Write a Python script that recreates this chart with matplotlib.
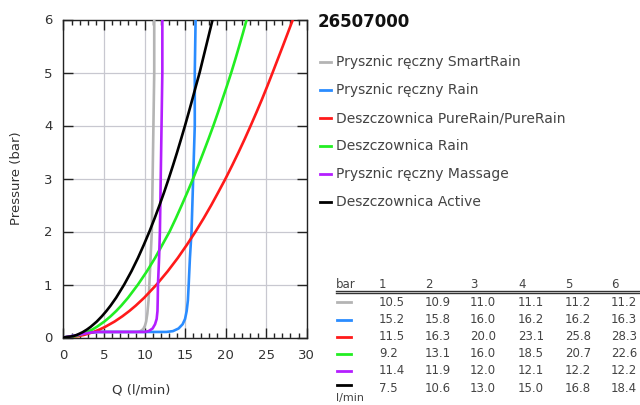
import matplotlib
matplotlib.use("Agg")
import matplotlib.pyplot as plt
from matplotlib.ticker import MultipleLocator

# ---------------- data ----------------
title = "26507000"
series_names = [
    "Prysznic ręczny SmartRain",
    "Prysznic ręczny Rain",
    "Deszczownica PureRain/PureRain",
    "Deszczownica Rain",
    "Prysznic ręczny Massage",
    "Deszczownica Active",
]
colors = ["#b4b4b4", "#2a8cff", "#ff1a1a", "#22ee22", "#b41eff", "#000000"]

# curve points: flow Q (l/min) vs pressure p (bar)
smart_p = [0, 0.03, 0.06, 0.09, 0.105, 0.105, 0.12, 0.16, 0.22, 0.3, 0.45, 0.7, 1.0, 1.5, 2, 3, 4, 5, 6]
smart_q = [0, 1.2, 2.2, 3.2, 4.2, 9.1, 9.5, 9.85, 10.05, 10.2, 10.35, 10.5, 10.6, 10.75, 10.9, 11.0, 11.1, 11.2, 11.2]

rain_p = [0, 0.03, 0.06, 0.09, 0.105, 0.105, 0.12, 0.17, 0.25, 0.35, 0.5, 0.7, 1.0, 1.5, 2, 3, 4, 5, 6]
rain_q = [0, 1.2, 2.2, 3.2, 4.2, 12.7, 13.5, 14.2, 14.7, 15.0, 15.2, 15.35, 15.45, 15.6, 15.8, 16.0, 16.2, 16.2, 16.3]

pure_p = [0, 0.025, 0.05, 0.1, 0.15, 0.2, 0.3, 0.4, 0.5, 0.6, 0.75, 1, 1.25, 1.5, 1.75, 2, 2.25, 2.5,
          2.75, 3, 3.25, 3.5, 3.75, 4, 4.25, 4.5, 4.75, 5, 5.25, 5.5, 5.75, 6]
pure_q = [0, 1.82, 2.57, 3.64, 4.45, 5.14, 6.30, 7.27, 8.13, 8.91, 9.96, 11.5, 12.86, 14.1, 15.23, 16.3,
          17.3, 18.24, 19.13, 20.0, 20.82, 21.61, 22.37, 23.1, 23.81, 24.5, 25.16, 25.8, 26.43, 27.06, 27.68, 28.3]

drain_p = [0, 0.025, 0.05, 0.1, 0.15, 0.2, 0.3, 0.4, 0.5, 0.6, 0.75, 1, 1.25, 1.5, 1.75, 2, 2.25, 2.5,
           2.75, 3, 3.25, 3.5, 3.75, 4, 4.25, 4.5, 4.75, 5, 5.25, 5.5, 5.75, 6]
drain_q = [0, 1.45, 2.06, 2.91, 3.56, 4.11, 5.04, 5.82, 6.51, 7.13, 7.97, 9.2, 10.3, 11.3, 12.2, 13.1,
           13.87, 14.6, 15.31, 16.0, 16.65, 17.28, 17.9, 18.5, 19.07, 19.62, 20.17, 20.7, 21.2, 21.68, 22.15, 22.6]

mass_p = [0, 0.03, 0.06, 0.09, 0.105, 0.105, 0.12, 0.17, 0.25, 0.35, 0.5, 0.7, 1.0, 1.5, 2, 3, 4, 5, 6]
mass_q = [0, 1.2, 2.2, 3.2, 4.2, 10.0, 10.5, 11.0, 11.3, 11.5, 11.6, 11.63, 11.66, 11.8, 11.9, 12.0, 12.1, 12.2, 12.2]

act_p = [0, 0.025, 0.05, 0.1, 0.15, 0.2, 0.3, 0.4, 0.5, 0.6, 0.75, 1, 1.25, 1.5, 1.75, 2, 2.25, 2.5,
         2.75, 3, 3.25, 3.5, 3.75, 4, 4.25, 4.5, 4.75, 5, 5.25, 5.5, 5.75, 6]
act_q = [0, 1.19, 1.68, 2.37, 2.9, 3.35, 4.11, 4.74, 5.30, 5.81, 6.50, 7.5, 8.39, 9.19, 9.92, 10.61,
         11.25, 11.86, 12.44, 12.99, 13.52, 14.03, 14.52, 15.0, 15.46, 15.91, 16.35, 16.8, 17.2, 17.6, 18.0, 18.4]

curves_p = [smart_p, rain_p, pure_p, drain_p, mass_p, act_p]
curves_q = [smart_q, rain_q, pure_q, drain_q, mass_q, act_q]

# table
table_header = ["1", "2", "3", "4", "5", "6"]
table_rows = [
    ["10.5", "10.9", "11.0", "11.1", "11.2", "11.2"],
    ["15.2", "15.8", "16.0", "16.2", "16.2", "16.3"],
    ["11.5", "16.3", "20.0", "23.1", "25.8", "28.3"],
    ["9.2", "13.1", "16.0", "18.5", "20.7", "22.6"],
    ["11.4", "11.9", "12.0", "12.1", "12.2", "12.2"],
    ["7.5", "10.6", "13.0", "15.0", "16.8", "18.4"],
]

# ---------------- figure ----------------
W, H = 640, 405
fig = plt.figure(figsize=(W / 100, H / 100), dpi=100)
plt.rcParams["font.family"] = ["DejaVu Sans"]

def fx(px):
    return px / W

def fy(py):
    return 1 - py / H

ax = fig.add_axes([fx(63.4), fy(337.5), fx(306.7) - fx(63.4), fy(19.5) - fy(337.5)])

for p, q, c in zip(curves_p, curves_q, colors):
    ax.plot(q, p, color=c, lw=1.9, solid_capstyle="round", solid_joinstyle="round", zorder=3)

ax.set_xlim(0, 30)
ax.set_ylim(0, 6)
ax.xaxis.set_major_locator(MultipleLocator(5))
ax.xaxis.set_minor_locator(MultipleLocator(1))
ax.yaxis.set_major_locator(MultipleLocator(1))
ax.grid(True, which="major", color="#c8c8d0", lw=0.9, zorder=0)
ax.tick_params(which="both", direction="in", top=True, right=True,
               colors="#222222", labelcolor="#333333", labelsize=9.5)
ax.tick_params(which="major", length=7, width=1.0)
ax.tick_params(which="minor", length=3.5, width=1.0)
ax.tick_params(axis="x", pad=8)
ax.tick_params(axis="y", pad=8)
for s in ax.spines.values():
    s.set_color("#222222")
    s.set_linewidth(1.0)

fig.text(fx(141), fy(390), "Q (l/min)", ha="center", va="center", fontsize=9.5, color="#333333")
fig.text(fx(17), fy(178), "Pressure (bar)", ha="center", va="center", rotation=90,
         fontsize=9.5, color="#333333")

# title
fig.text(fx(318), fy(22), title, ha="left", va="center", fontsize=12, fontweight="bold", color="#111111")

# legend
leg_y = [62, 90, 118, 146, 174, 202]
for name, c, y in zip(series_names, colors, leg_y):
    fig.add_artist(plt.Line2D([fx(320), fx(331)], [fy(y), fy(y)], color=c, lw=2.0))
    fig.text(fx(336.5), fy(y), name, ha="left", va="center", fontsize=10, color="#444444")

# table
col_x = [379, 425, 470, 518, 565, 611]
fig.text(fx(336), fy(284), "bar", ha="left", va="center", fontsize=8.5, color="#444444")
for h, x in zip(table_header, col_x):
    fig.text(fx(x), fy(284), h, ha="left", va="center", fontsize=8.5, color="#444444")
fig.add_artist(plt.Line2D([fx(336), fx(640)], [fy(290.7), fy(290.7)], color="#333333", lw=1.0))
fig.add_artist(plt.Line2D([fx(336), fx(640)], [fy(292.8), fy(292.8)], color="#333333", lw=1.0))
row_y = [302.3, 319.5, 336.7, 353.5, 370.7, 388.0]
for row, c, y in zip(table_rows, colors, row_y):
    ly = y - 3 if c == "#000000" else y
    fig.add_artist(plt.Line2D([fx(337), fx(351)], [fy(ly), fy(ly)], color=c, lw=2.0))
    for v, x in zip(row, col_x):
        fig.text(fx(x), fy(y), v, ha="left", va="center", fontsize=8.5, color="#444444")
fig.text(fx(336), fy(398.5), "l/min", ha="left", va="center", fontsize=8, color="#444444")

fig.savefig("out.png", dpi=100)
